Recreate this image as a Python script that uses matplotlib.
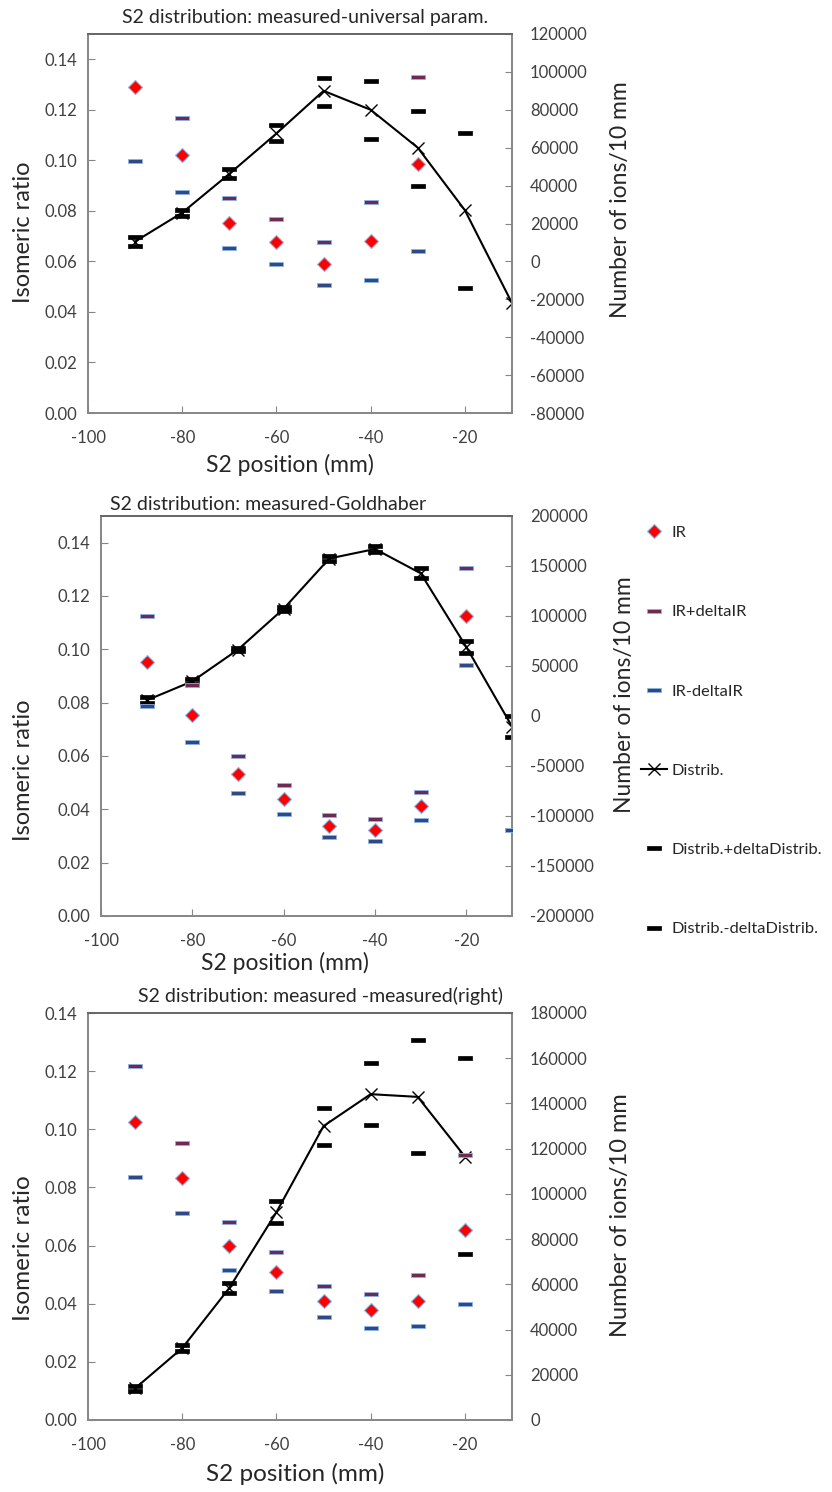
import numpy as np
import matplotlib
matplotlib.use("Agg")
import matplotlib.pyplot as plt
from matplotlib.ticker import FormatStrFormatter

plt.rcParams['font.family'] = ['Lato', 'DejaVu Sans']
plt.rcParams['axes.unicode_minus'] = False

nan = np.nan
pos = [-90, -80, -70, -60, -50, -40, -30, -20, -10]

# panel 1: measured-universal param.
ir1 = [0.129, 0.102, 0.075, 0.0675, 0.059, 0.068, 0.0985, nan, nan]
ir1_plus = [0.158, 0.1167, 0.085, 0.0767, 0.0675, 0.0836, 0.133, nan, nan]
ir1_minus = [0.0998, 0.0876, 0.0652, 0.0588, 0.0506, 0.0527, 0.0641, nan, nan]
dist1 = [10500, 25700, 46200, 67500, 90000, 80000, 60000, 27000, -22000]
dist1_plus = [12800, 27200, 48500, 72200, 97000, 95300, 79300, 67500, nan]
dist1_minus = [8200, 24200, 43900, 63300, 82000, 64500, 39900, -14000, nan]

# panel 2: measured-Goldhaber
ir2 = [0.0951, 0.0755, 0.0531, 0.0437, 0.0337, 0.0324, 0.0412, 0.1124, nan]
ir2_plus = [0.1125, 0.0865, 0.0601, 0.049, 0.0378, 0.0365, 0.0466, 0.1306, nan]
ir2_minus = [0.0786, 0.0651, 0.0461, 0.0383, 0.0298, 0.0283, 0.0361, 0.0941, 0.0322]
dist2 = [15700, 34700, 66400, 107300, 157500, 167000, 142700, 69000, -10500]
dist2_plus = [18700, 37200, 67900, 109300, 160000, 170000, 147700, 74700, 0]
dist2_minus = [12700, 32200, 64900, 105300, 155000, 164000, 137700, 62700, -21300]

# panel 3: measured -measured(right)
ir3 = [0.1026, 0.0832, 0.060, 0.0508, 0.0409, 0.0377, 0.0411, 0.0654, nan]
ir3_plus = [0.1218, 0.0954, 0.068, 0.0577, 0.0462, 0.0434, 0.050, 0.091, nan]
ir3_minus = [0.0836, 0.0712, 0.0517, 0.0443, 0.0355, 0.0318, 0.0322, 0.040, nan]
dist3 = [14000, 31800, 58400, 91900, 130000, 144100, 142900, 116500, nan]
dist3_plus = [15000, 33100, 60800, 96800, 138100, 157900, 167900, 160300, nan]
dist3_minus = [13000, 30500, 56000, 87000, 121600, 130400, 117900, 73600, nan]

titles = ["S2 distribution: measured-universal param.",
          "S2 distribution: measured-Goldhaber",
          "S2 distribution: measured -measured(right)"]

dash = [(-1, -0.32), (1, -0.32), (1, 0.32), (-1, 0.32), (-1, -0.32)]
AX_GRAY = '#868686'


def panel(rect, ir, irp, irm, d, dp, dm, lylim, rylim, rticks):
    ax = fig.add_axes(rect)
    ax2 = ax.twinx()
    ax.set_zorder(ax2.get_zorder() + 1)
    ax.patch.set_visible(False)
    h = []
    h += ax.plot(pos, ir, ls='none', marker='D', ms=7, mfc='#FF0000', mec='#8DB3E2', mew=0.8,
                 label='IR', zorder=5)
    h += ax.plot(pos, irp, ls='none', marker=dash, ms=10, mfc='#6E2A55', mec='#8DB3E2', mew=0.6,
                 label='IR+deltaIR', zorder=4)
    h += ax.plot(pos, irm, ls='none', marker=dash, ms=10, mfc='#2E4A86', mec='#8DB3E2', mew=0.6,
                 label='IR-deltaIR', zorder=4)
    h += ax2.plot(pos, d, color='black', lw=1.5, marker='x', ms=8, mew=1.0, label='Distrib.')
    h += ax2.plot(pos, dp, ls='none', marker=dash, ms=10, mfc='black', mec='black', mew=0.5,
                  label='Distrib.+deltaDistrib.')
    h += ax2.plot(pos, dm, ls='none', marker=dash, ms=10, mfc='black', mec='black', mew=0.5,
                  label='Distrib.-deltaDistrib.')
    ax.set_xlim(-100, -10)
    ax.set_xticks([-100, -80, -60, -40, -20])
    ax.set_ylim(*lylim)
    ax.set_yticks(np.arange(0, 0.141, 0.02))
    ax.yaxis.set_major_formatter(FormatStrFormatter('%.2f'))
    ax2.set_ylim(*rylim)
    ax2.set_yticks(rticks)
    for a in (ax, ax2):
        for s in a.spines.values():
            s.set_color(AX_GRAY)
            s.set_linewidth(1.2)
        a.tick_params(direction='in', length=5, color=AX_GRAY, labelsize=12, colors='#404040')
    ax.tick_params(axis='x', pad=12)
    ax.tick_params(axis='y', pad=8)
    ax2.tick_params(axis='y', pad=13)
    ax.spines['top'].set_color('#606060')
    return ax, ax2, h


fig = plt.figure(figsize=(8.32, 14.92), dpi=100)
W, H = 832.0, 1492.0


def rect(l, t, r, b):
    return [l / W, 1 - b / H, (r - l) / W, (b - t) / H]


a1, b1, h1 = panel(rect(88, 34, 512, 413), ir1, ir1_plus, ir1_minus, dist1, dist1_plus,
                   dist1_minus, (0, 0.15), (-80000, 120000), np.arange(-80000, 120001, 20000))
a2, b2, h2 = panel(rect(101, 516, 512, 916), ir2, ir2_plus, ir2_minus, dist2, dist2_plus,
                   dist2_minus, (0, 0.15), (-200000, 200000), np.arange(-200000, 200001, 50000))
a3, b3, h3 = panel(rect(88, 1013, 512, 1420), ir3, ir3_plus, ir3_minus, dist3, dist3_plus,
                   dist3_minus, (0, 0.14), (0, 180000), np.arange(0, 180001, 20000))


def ftext(x, y, s, **kw):
    fig.text(x / W, 1 - y / H, s, ha='center', va='center', color='#262626', **kw)


ftext(305, 17, titles[0], fontsize=14)
ftext(268, 504, titles[1], fontsize=14)
ftext(320, 996, titles[2], fontsize=14)
ftext(290, 465, "S2 position (mm)", fontsize=16.5)
ftext(285, 963, "S2 position (mm)", fontsize=16.5)
ftext(295, 1474, "S2 position (mm)", fontsize=17.5)
ftext(24, 232, "Isomeric ratio", fontsize=17, rotation=90)
ftext(24, 770, "Isomeric ratio", fontsize=17, rotation=90)
ftext(24, 1248, "Isomeric ratio", fontsize=17.5, rotation=90)
ftext(620, 200, "Number of ions/10 mm", fontsize=16.5, rotation=90)
ftext(625, 695, "Number of ions/10 mm", fontsize=16.5, rotation=90)
ftext(620, 1215, "Number of ions/10 mm", fontsize=17, rotation=90)

fig.legend(handles=h2, loc='upper left', bbox_to_anchor=(626 / W, 1 - 511 / H),
           frameon=False, fontsize=11.8, labelspacing=3.95, handlelength=1.6,
           handletextpad=0.3, labelcolor='#262626')

fig.savefig("out.png", dpi=100)
